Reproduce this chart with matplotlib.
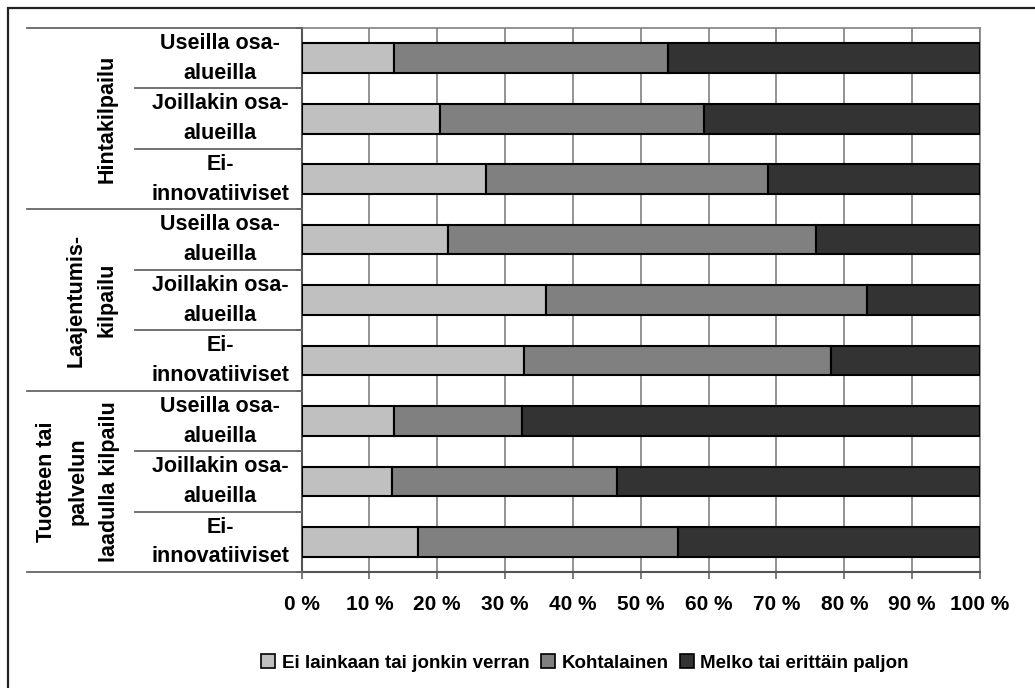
import matplotlib
matplotlib.use("Agg")
import matplotlib.pyplot as plt
from matplotlib.patches import Rectangle, Patch
from matplotlib.lines import Line2D
import numpy as np

plt.rcParams['font.family'] = ['Liberation Sans', 'DejaVu Sans']

groups = ["Hintakilpailu", "Laajentumis-\nkilpailu", "Tuotteen tai\npalvelun\nlaadulla kilpailu"]
subcats = ["Useilla osa-\nalueilla", "Joillakin osa-\nalueilla", "Ei-\ninnovatiiviset"]
series_names = ["Ei lainkaan tai jonkin verran", "Kohtalainen", "Melko tai erittäin paljon"]
colors = ["#C0C0C0", "#808080", "#333333"]

ei_lainkaan = [13.7, 20.4, 27.2, 21.6, 36.0, 32.8, 13.7, 13.3, 17.1]
kohtalainen = [40.3, 38.9, 41.5, 54.2, 47.4, 45.3, 18.8, 33.2, 38.4]
melko = [46.0, 40.7, 31.3, 24.2, 16.6, 21.9, 67.5, 53.5, 44.5]
xticks = [0, 10, 20, 30, 40, 50, 60, 70, 80, 90, 100]
xticklabels = [f"{t} %" for t in xticks]

W, H = 1035, 688
fig = plt.figure(figsize=(W / 100, H / 100), dpi=100)
fig.patch.set_facecolor("white")

def fx(px):
    return px / W

def fy(py):
    return 1 - py / H

ax_l, ax_r, ax_t, ax_b = 301.5, 980, 28, 572.3
ax = fig.add_axes([fx(ax_l), fy(ax_b), fx(ax_r) - fx(ax_l), fy(ax_t) - fy(ax_b)])

n = len(ei_lainkaan)
y = np.arange(n)
left = np.zeros(n)
for vals, c, name in zip([ei_lainkaan, kohtalainen, melko], colors, series_names):
    ax.barh(y, vals, left=left, height=0.49, color=c, edgecolor="black", linewidth=1.5, label=name, zorder=3)
    left += np.array(vals)

ax.set_xlim(0, 100)
ax.set_ylim(n - 0.5, -0.5)
ax.set_xticks(xticks)
ax.set_xticklabels(xticklabels, fontsize=15, fontweight="bold")
ax.xaxis.grid(True, color="#808080", linewidth=1.2, zorder=0)
ax.set_axisbelow(True)
ax.tick_params(axis="x", direction="out", length=5, width=1.2, color="#666666", pad=11)
ax.set_yticks(np.arange(-0.5, n, 1.0))
ax.set_yticklabels([])
ax.tick_params(axis="y", direction="out", length=4, width=1.2, color="#666666")
for s in ["top", "right"]:
    ax.spines[s].set_color("#808080")
    ax.spines[s].set_linewidth(1.2)
for s in ["left", "bottom"]:
    ax.spines[s].set_color("#555555")
    ax.spines[s].set_linewidth(1.5)

# category labels and separators
row_h = (ax_b - ax_t) / n
for i in range(n):
    cy = ax_t + (i + 0.5) * row_h
    fig.text(fx(220), fy(cy), subcats[i % 3], ha="center", va="center", fontsize=15.5,
             fontweight="bold", linespacing=1.55)
for i in range(n + 1):
    yy = ax_t + i * row_h
    x0 = 27 if i % 3 == 0 else 135
    fig.add_artist(Line2D([fx(x0), fx(ax_l)], [fy(yy), fy(yy)], color="#666666", linewidth=1.3))

group_x = [107, 91.5, 78]
for g in range(3):
    cy = ax_t + (g * 3 + 1.5) * row_h
    fig.text(fx(group_x[g]), fy(cy), groups[g], rotation=90, ha="center", va="center",
             fontsize=15.5, fontweight="bold", multialignment="center", linespacing=1.65)

# outer border (only left/top visible)
fig.add_artist(Rectangle((fx(7.5), fy(700)), 1.2, fy(7.5) - fy(700), fill=False,
                         edgecolor="#222222", linewidth=1.6, transform=fig.transFigure))

handles = [Patch(facecolor=c, edgecolor="black", linewidth=1.2) for c in colors]
fig.legend(handles, series_names, loc="center", bbox_to_anchor=(fx(585), fy(663)), ncol=3,
           frameon=False, prop={"size": 13.5, "weight": "bold"}, handlelength=0.75,
           handleheight=0.75, handletextpad=0.35, columnspacing=0.6)

fig.savefig("out.png", dpi=100)
